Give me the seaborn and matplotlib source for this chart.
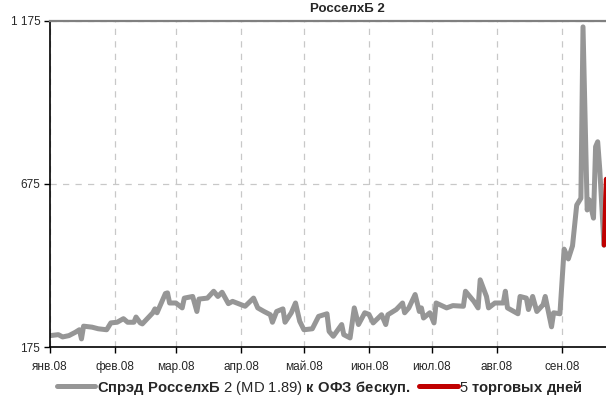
import pandas as pd
import numpy as np
import matplotlib
matplotlib.use('Agg')
import matplotlib.pyplot as plt
import matplotlib.dates as mdates
from matplotlib import font_manager
import seaborn as sns

# spread data, bp
spread_dates = [
    '2008-01-01', '2008-01-05', '2008-01-07', '2008-01-10', '2008-01-13', '2008-01-15',
    '2008-01-16', '2008-01-17', '2008-01-21', '2008-01-24', '2008-01-28', '2008-01-30',
    '2008-02-02', '2008-02-05', '2008-02-07', '2008-02-10', '2008-02-11', '2008-02-13',
    '2008-02-14', '2008-02-19', '2008-02-20', '2008-02-21', '2008-02-25', '2008-02-26',
    '2008-02-27',
    '2008-03-01', '2008-03-04', '2008-03-05', '2008-03-09', '2008-03-11', '2008-03-12',
    '2008-03-16', '2008-03-19', '2008-03-21', '2008-03-23', '2008-03-26', '2008-03-28',
    '2008-04-01', '2008-04-03', '2008-04-07', '2008-04-09', '2008-04-12', '2008-04-15',
    '2008-04-16', '2008-04-18', '2008-04-21', '2008-04-22', '2008-04-25', '2008-04-27',
    '2008-04-29',
    '2008-05-01', '2008-05-05', '2008-05-08', '2008-05-12', '2008-05-13', '2008-05-15',
    '2008-05-19', '2008-05-20', '2008-05-23', '2008-05-25', '2008-05-27', '2008-05-30',
    '2008-06-01', '2008-06-03', '2008-06-07', '2008-06-09', '2008-06-10', '2008-06-14',
    '2008-06-17', '2008-06-18', '2008-06-20', '2008-06-23', '2008-06-25', '2008-06-26',
    '2008-06-27', '2008-06-30',
    '2008-07-02', '2008-07-03', '2008-07-08', '2008-07-11', '2008-07-16', '2008-07-17',
    '2008-07-21', '2008-07-23', '2008-07-24', '2008-07-27', '2008-07-28', '2008-07-31',
    '2008-08-04', '2008-08-05', '2008-08-06', '2008-08-11', '2008-08-12', '2008-08-15',
    '2008-08-16', '2008-08-18', '2008-08-20', '2008-08-23', '2008-08-24', '2008-08-27',
    '2008-08-28', '2008-08-31',
    '2008-09-02', '2008-09-04', '2008-09-06', '2008-09-08', '2008-09-10', '2008-09-11',
    '2008-09-13', '2008-09-14', '2008-09-16', '2008-09-17', '2008-09-18', '2008-09-19',
    '2008-09-21',
]
spread_values = [
    210, 213, 206, 210, 220, 228, 200, 239, 236, 231, 228, 249,
    251, 262, 251, 251, 267, 249, 246, 280, 292, 280, 339, 341, 310,
    310, 295, 325, 330, 284, 322, 325, 346, 330, 343, 308, 315,
    305, 300, 325, 295, 284, 274, 251, 284, 292, 251, 280, 310, 254,
    228, 231, 269, 277, 223, 208, 244, 213, 203, 295, 244, 280,
    275, 249, 274, 244, 274, 290, 310, 280, 295, 336, 284, 295, 264, 280,
    249, 310, 295, 302, 300, 346, 315, 295, 381, 330, 295, 310,
    310, 346, 295, 277, 330, 325, 290, 330, 284, 305, 330, 237, 280, 277,
    475, 445, 485, 610, 631, 1156, 595, 626, 570, 789, 804, 718, 487,
]

# last 5 trading days
last_dates = ['2008-09-21', '2008-09-22', '2008-09-23', '2008-09-24', '2008-09-25']
last_values = [487, 690, 640, 600, 620]

month_ticks = ['2008-01-01', '2008-02-01', '2008-03-01', '2008-04-01', '2008-05-01',
               '2008-06-01', '2008-07-01', '2008-08-01', '2008-09-01']
month_labels = ['янв.08', 'фев.08', 'мар.08', 'апр.08', 'май.08',
                'июн.08', 'июл.08', 'авг.08', 'сен.08']
y_ticks = [175, 675, 1175]
y_labels = ['175', '675', '1 175']

df = pd.DataFrame({'date': pd.to_datetime(spread_dates), 'spread': spread_values})
df_last = pd.DataFrame({'date': pd.to_datetime(last_dates), 'spread': last_values})

sns.set_style('white')
names = {f.name for f in font_manager.fontManager.ttflist}
font = 'Liberation Sans Narrow' if 'Liberation Sans Narrow' in names else 'Liberation Sans'
plt.rcParams['font.family'] = [font, 'DejaVu Sans']
plt.rcParams['mathtext.fontset'] = 'custom'
plt.rcParams['mathtext.rm'] = font
plt.rcParams['mathtext.bf'] = font + ':bold'

fig = plt.figure(figsize=(6.06, 3.98), dpi=100)
ax = fig.add_axes([0.0825, 0.128, 0.9175, 0.82])

gray = '#969696'
red = '#C00000'
sns.lineplot(data=df, x='date', y='spread', ax=ax, color=gray, linewidth=3.6,
             label=r'$\bf{Спрэд\ РосселхБ}$ 2 (MD 1.89) $\bf{к\ ОФЗ\ бескуп.}$')
sns.lineplot(data=df_last, x='date', y='spread', ax=ax, color=red, linewidth=3.2,
             label=r'5 $\bf{торговых\ дней}$')

ax.set_xlim(pd.Timestamp('2008-01-01'), pd.Timestamp('2008-09-21') + pd.Timedelta(hours=23))
ax.set_ylim(175, 1175)
ax.set_xticks(pd.to_datetime(month_ticks))
ax.set_xticklabels(month_labels)
ax.set_yticks(y_ticks)
ax.set_yticklabels(y_labels)
ax.set_xlabel('')
ax.set_ylabel('')
ax.tick_params(axis='both', labelsize=8.5, length=4, width=1, color='black',
               direction='out', pad=3)
ax.tick_params(axis='x', bottom=True, pad=6)
ax.tick_params(axis='y', left=True)

ax.grid(True, color='#c8c8c8', linestyle=(0, (5, 5)), linewidth=0.9)
ax.set_axisbelow(True)

for side in ['left', 'bottom']:
    ax.spines[side].set_color('black')
    ax.spines[side].set_linewidth(1.2)
ax.spines['right'].set_visible(False)
ax.spines['top'].set_color('#808080')
ax.spines['top'].set_linewidth(1.6)

fig.text(0.573, 0.993, 'РосселхБ 2', ha='center', va='top',
         fontsize=9.5, fontweight='bold')

leg = ax.legend(loc='center', bbox_to_anchor=(0.528, 0.026), bbox_transform=fig.transFigure,
                ncol=2, frameon=False, fontsize=10.6, handlelength=2.6, handletextpad=0.1,
                columnspacing=0.6, borderaxespad=0)
for line in leg.get_lines():
    line.set_linewidth(3.6)

fig.savefig('out.png', dpi=100)
